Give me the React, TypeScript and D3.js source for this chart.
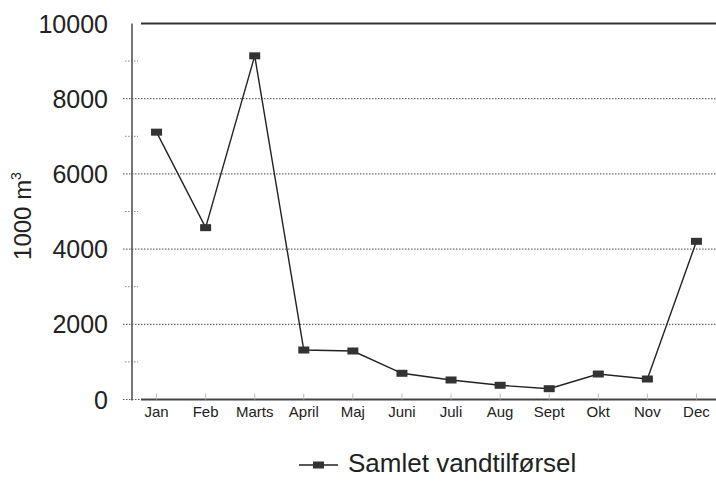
import React from "react";
import * as d3 from "d3";

const months = ["Jan", "Feb", "Marts", "April", "Maj", "Juni", "Juli", "Aug", "Sept", "Okt", "Nov", "Dec"];
const values = [7110, 4570, 9140, 1316, 1290, 697, 519, 378, 287, 678, 545, 4207];
const yTicks = [0, 2000, 4000, 6000, 8000, 10000];
const minorTicks = [1000, 3000, 5000, 7000, 9000];
const seriesName = "Samlet vandtilførsel";
const yTitle = "1000 m";

const W = 716;
const H = 487;
const left = 132;
const right = 721;
const top = 23.5;
const bottom = 399.5;
const font = "Liberation Sans, Arial, sans-serif";
const ink = "#222";

export default function App() {
  const x = d3.scalePoint<string>().domain(months).range([left, right]).padding(0.5);
  const y = d3.scaleLinear().domain([0, 10000]).range([bottom, top]);
  const line = d3
    .line<number>()
    .x((_, i) => x(months[i]) as number)
    .y((d) => y(d));

  return (
    <svg width={W} height={H} style={{ position: "absolute", left: 0, top: 0, background: "#fff" }}>
      {/* gridlines */}
      {yTicks.filter((t) => t > 0 && t < 10000).map((t) => (
        <line key={t} x1={123} x2={W} y1={y(t)} y2={y(t)} stroke="#444" strokeWidth={1} strokeDasharray="1.5 1.5" />
      ))}
      {/* minor ticks */}
      {minorTicks.map((t) => (
        <line key={t} x1={125} x2={138} y1={y(t)} y2={y(t)} stroke="#888" strokeWidth={1} strokeDasharray="1.5 1.5" />
      ))}
      {/* top line */}
      <line x1={141} x2={W} y1={y(10000)} y2={y(10000)} stroke="#333" strokeWidth={1.8} />
      {/* baseline */}
      <line x1={123} x2={141} y1={y(0)} y2={y(0)} stroke="#555" strokeWidth={1} strokeDasharray="1.5 1.5" />
      <line x1={141} x2={W} y1={y(0)} y2={y(0)} stroke="#444" strokeWidth={1.8} />
      {/* y axis */}
      <line x1={left} x2={left} y1={top} y2={bottom + 1} stroke="#555" strokeWidth={1.6} />
      {/* x ticks */}
      {months.map((m) => (
        <line key={m} x1={x(m) as number} x2={x(m) as number} y1={bottom - 6} y2={bottom} stroke="#bbb" strokeWidth={1} />
      ))}
      {/* y tick labels */}
      {yTicks.map((t) => (
        <text key={t} x={108} y={y(t)} dy="0.36em" textAnchor="end" fontFamily={font} fontSize={25} fill={ink}>
          {t}
        </text>
      ))}
      {/* y title */}
      <text transform="translate(31,216) rotate(-90)" textAnchor="middle" fontFamily={font} fontSize={24} fill={ink}>
        {yTitle}
        <tspan fontSize={14} dy={-10}>3</tspan>
      </text>
      {/* x labels */}
      {months.map((m) => (
        <text key={m} x={x(m) as number} y={412} dy="0.36em" textAnchor="middle" fontFamily={font} fontSize={15} fill={ink}>
          {m}
        </text>
      ))}
      {/* series */}
      <path d={line(values) || ""} fill="none" stroke={ink} strokeWidth={1.4} />
      {values.map((v, i) => (
        <rect key={i} x={(x(months[i]) as number) - 5.5} y={y(v) - 3.5} width={11} height={7} fill="#333" />
      ))}
      {/* legend */}
      <line x1={299} x2={338} y1={465} y2={465} stroke={ink} strokeWidth={1.4} />
      <rect x={313} y={461.5} width={11} height={7} fill="#333" />
      <text x={348} y={463} dy="0.36em" fontFamily={font} fontSize={26} fill={ink}>
        {seriesName}
      </text>
    </svg>
  );
}
